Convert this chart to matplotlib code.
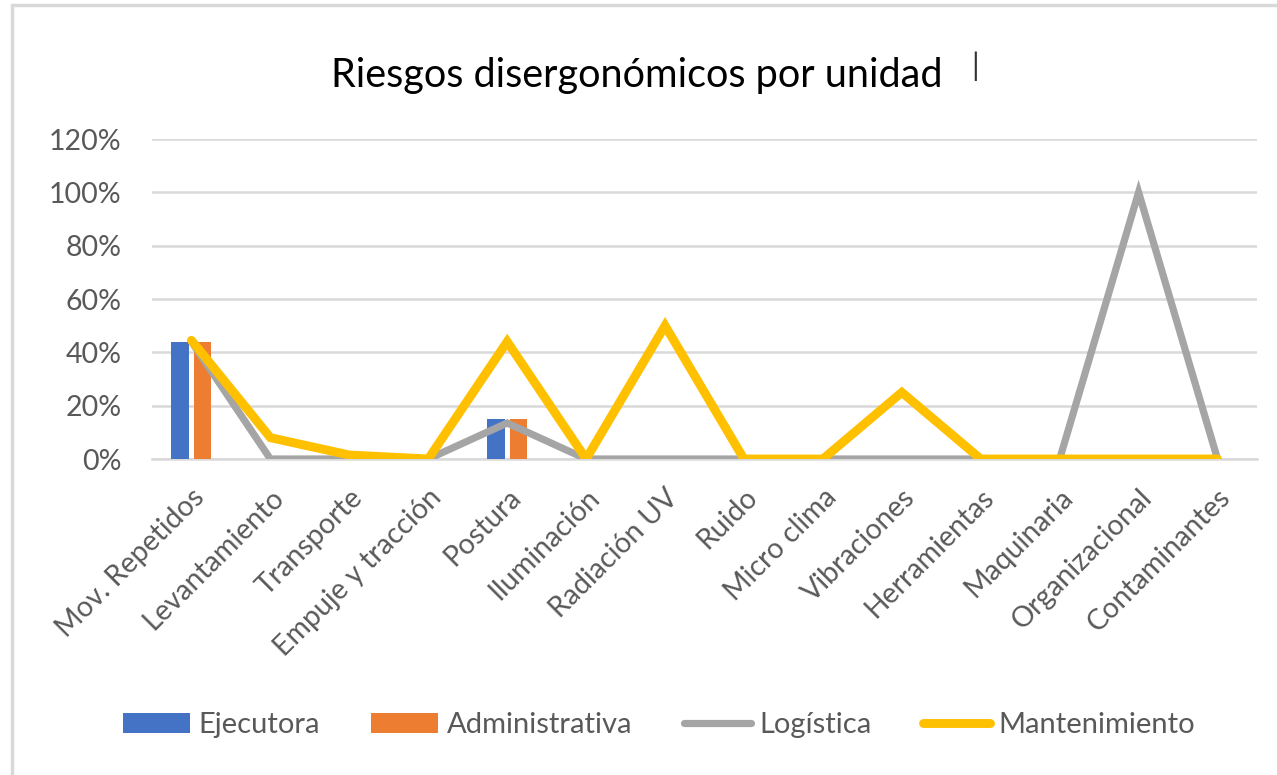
import matplotlib
matplotlib.use("Agg")
import matplotlib.pyplot as plt
import numpy as np
from matplotlib.patches import Rectangle
from matplotlib.ticker import FuncFormatter

categories = ["Mov. Repetidos", "Levantamiento", "Transporte", "Empuje y tracción",
              "Postura", "Iluminación", "Radiación UV", "Ruido", "Micro clima",
              "Vibraciones", "Herramientas", "Maquinaria", "Organizacional", "Contaminantes"]
ejecutora = [0.44, 0, 0, 0, 0.15, 0, 0, 0, 0, 0, 0, 0, 0, 0]
administrativa = [0.44, 0, 0, 0, 0.15, 0, 0, 0, 0, 0, 0, 0, 0, 0]
logistica = [0.44, 0, 0, 0, 0.135, 0, 0, 0, 0, 0, 0, 0, 1.00, 0]
mantenimiento = [0.445, 0.08, 0.015, 0.0, 0.44, 0.0, 0.50, 0.0, 0.0, 0.25, 0.0, 0.0, 0.0, 0.0]
yticks = [0, 0.2, 0.4, 0.6, 0.8, 1.0, 1.2]

plt.rcParams['font.family'] = ['Lato', 'DejaVu Sans']

W, H = 1277, 775
fig = plt.figure(figsize=(W / 100, H / 100), dpi=100)
fig.patch.set_facecolor('white')
# outer frame (top / left edges visible)
fig.add_artist(Rectangle((12 / W, -0.05), 1.2, 1 - 5 / H + 0.05, transform=fig.transFigure,
                         fill=False, edgecolor='#d9d9d9', linewidth=2.5))

ax = fig.add_axes([152 / W, 1 - 459 / H, (1257 - 152) / W, (459 - 139) / H])
x = np.arange(len(categories))
bw = 0.22
b1 = ax.bar(x - 0.143, ejecutora, width=bw, color='#4472c4', label='Ejecutora', zorder=3)
b2 = ax.bar(x + 0.143, administrativa, width=bw, color='#ed7d31', label='Administrativa', zorder=3)
l1, = ax.plot(x, logistica, color='#a5a5a5', lw=5.2, label='Logística', zorder=4,
              solid_capstyle='round', solid_joinstyle='miter')
l2, = ax.plot(x, mantenimiento, color='#ffc000', lw=6.4, label='Mantenimiento', zorder=5,
              solid_capstyle='round', solid_joinstyle='miter')

ax.set_xlim(-0.5, len(categories) - 0.5)
ax.set_ylim(0, 1.2)
ax.set_yticks(yticks)
ax.yaxis.set_major_formatter(FuncFormatter(lambda v, p: f"{v*100:.0f}%"))
ax.grid(axis='y', color='#d9d9d9', lw=1.8, zorder=0)
ax.set_axisbelow(True)
for s in ['top', 'right', 'left']:
    ax.spines[s].set_visible(False)
ax.spines['bottom'].set_color('#d9d9d9')
ax.spines['bottom'].set_linewidth(1.8)
ax.tick_params(axis='both', length=0, labelsize=20.5, colors='#595959')
ax.tick_params(axis='y', pad=22)
ax.set_xticks(x)
ax.set_xticklabels(categories, rotation=45, ha='right', rotation_mode='anchor')
ax.tick_params(axis='x', pad=18)

fig.text(637 / W, 1 - 75 / H, "Riesgos disergonómicos por unidad", ha='center', va='center',
         fontsize=28.5, color='black')
fig.text(975 / W, 1 - 66 / H, "|", ha='center', va='center', fontsize=22, color='#333333')

leg = fig.legend(handles=[b1, b2, l1, l2], loc='center', bbox_to_anchor=(659 / W, 1 - 725 / H),
                 ncol=4, frameon=False, fontsize=21, labelcolor='#595959', handlelength=2.3,
                 handletextpad=0.3, columnspacing=1.75, handleheight=0.7)

fig.savefig('out.png', dpi=100, facecolor='white')
